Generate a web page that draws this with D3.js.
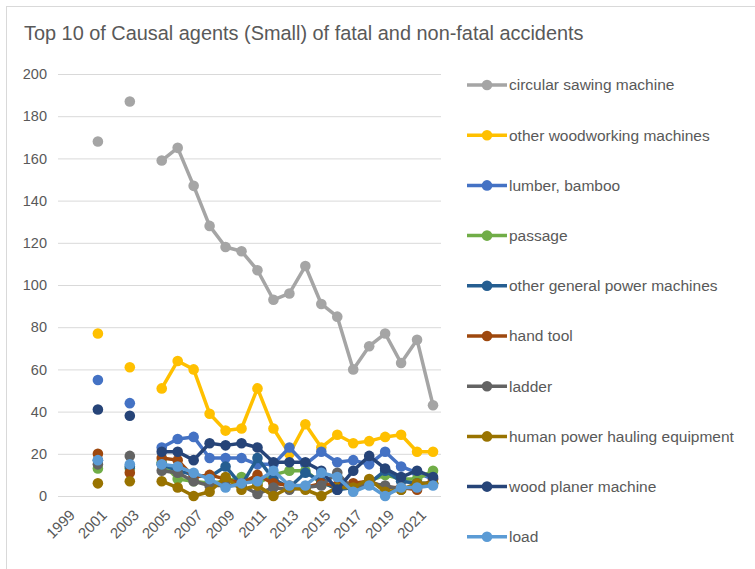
<!DOCTYPE html>
<html>
<head>
<meta charset="utf-8">
<script src="https://cdn.jsdelivr.net/npm/d3@7"></script>
<style>
    body { margin: 0; background: #fff; }
    text { font-family: "Liberation Sans", Arial, sans-serif; fill: #595959; }
</style>
</head>
<body>
<div id="chart-area"></div>
<script>
const width = 755;
const height = 569;

const years = d3.range(1999, 2023);
const tickYears = years.filter(y => y % 2 === 1);
const yTicks = [0, 20, 40, 60, 80, 100, 120, 140, 160, 180, 200];

const seriesNames = ["circular sawing machine", "other woodworking machines", "lumber, bamboo",
    "passage", "other general power machines", "hand tool", "ladder",
    "human power hauling equipment", "wood planer machine", "load"];

const colors = ["#a5a5a5", "#ffc000", "#4472c4", "#70ad47", "#255e91",
    "#9e480e", "#636363", "#997300", "#264478", "#5b9bd5"];

// values per year, 1999..2022 (null = no data)
const circularSawing = [null, null, 168, null, 187, null, 159, 165, 147, 128, 118, 116, 107, 93, 96, 109, 91, 85, 60, 71, 77, 63, 74, 43];
const otherWoodworking = [null, null, 77, null, 61, null, 51, 64, 60, 39, 31, 32, 51, 32, 20, 34, 23, 29, 25, 26, 28, 29, 21, 21];
const lumberBamboo = [null, null, 55, null, 44, null, 23, 27, 28, 18, 18, 18, 15, 15, 23, 15, 21, 16, 17, 15, 21, 14, 11, 8];
const passage = [null, null, 13, null, 13, null, 16, 8, 7, 6, 7, 9, 6, 10, 12, 12, 6, 4, 5, 7, 10, 8, 8, 12];
const otherGeneralPower = [null, null, 17, null, 14, null, 15, 12, 10, 9, 14, 5, 18, 8, 4, 11, 7, 3, 4, 6, 12, 7, 6, 6];
const handTool = [null, null, 20, null, 11, null, 18, 17, 9, 10, 8, 6, 10, 6, 5, 4, 6, 5, 6, 7, 4, 4, 3, 8];
const ladder = [null, null, 15, null, 19, null, 12, 11, 7, 5, 5, 5, 1, 4, 3, 4, 5, 11, 3, 6, 5, 3, 5, 6];
const humanPowerHauling = [null, null, 6, null, 7, null, 7, 4, 0, 2, 9, 3, 5, 0, 4, 3, 0, 4, 4, 8, 2, 3, 6, 6];
const woodPlaner = [null, null, 41, null, 38, null, 21, 21, 17, 25, 24, 25, 23, 16, 16, 16, 12, 3, 12, 19, 13, 9, 12, 9];
const load = [null, null, 17, null, 15, null, 15, 14, 11, 8, 4, 6, 7, 12, 5, 5, 11, 9, 2, 5, 0, 4, 4, 5];

const seriesValues = [circularSawing, otherWoodworking, lumberBamboo, passage, otherGeneralPower,
    handTool, ladder, humanPowerHauling, woodPlaner, load];

const series = seriesNames.map((name, i) => ({
    name: name,
    color: colors[i],
    values: years.map((yr, j) => ({ year: yr, value: seriesValues[i][j] }))
}));

const svg = d3.select("#chart-area")
    .append("svg")
    .attr("width", width)
    .attr("height", height);

// chart frame
svg.append("rect")
    .attr("x", 6.5).attr("y", 6.5)
    .attr("width", width + 10).attr("height", height + 10)
    .attr("fill", "none")
    .attr("stroke", "#d9d9d9");

svg.append("text")
    .attr("x", 24).attr("y", 40)
    .style("font-size", "19.9px")
    .text("Top 10 of Causal agents (Small) of fatal and non-fatal accidents");

const x = d3.scaleBand()
    .domain(years)
    .range([58, 441]);

const y = d3.scaleLinear()
    .domain([0, 200])
    .range([496, 74]);

// gridlines + y labels
const yAxis = d3.axisLeft(y)
    .tickValues(yTicks)
    .tickSize(-(441 - 58))
    .tickPadding(11);

const gy = svg.append("g")
    .attr("transform", "translate(58,0)")
    .call(yAxis);
gy.select(".domain").remove();
gy.selectAll(".tick line").attr("stroke", "#d9d9d9");
gy.selectAll(".tick text")
    .style("font-size", "14.5px")
    .style("font-family", "Liberation Sans, Arial, sans-serif")
    .attr("fill", "#595959");

// x labels, rotated
const xAxis = d3.axisBottom(x)
    .tickValues(tickYears)
    .tickSize(0);

const gx = svg.append("g")
    .attr("transform", "translate(0,496)")
    .call(xAxis);
gx.select(".domain").remove();
gx.selectAll(".tick text")
    .style("font-size", "15px")
    .style("font-family", "Liberation Sans, Arial, sans-serif")
    .attr("fill", "#595959")
    .attr("text-anchor", "end")
    .attr("dy", null)
    .attr("y", 0)
    .attr("transform", "translate(10,20) rotate(-45)");

const line = d3.line()
    .defined(d => d.value != null)
    .x(d => x(d.year) + x.bandwidth() / 2)
    .y(d => y(d.value));

const groups = svg.selectAll(".series")
    .data(series)
    .enter().append("g")
    .attr("class", "series");

groups.append("path")
    .attr("d", d => line(d.values))
    .attr("fill", "none")
    .attr("stroke", d => d.color)
    .attr("stroke-width", 3.5)
    .attr("stroke-linejoin", "round");

groups.selectAll("circle")
    .data(d => d.values.filter(v => v.value != null).map(v => ({ ...v, color: d.color })))
    .enter().append("circle")
    .attr("cx", d => x(d.year) + x.bandwidth() / 2)
    .attr("cy", d => y(d.value))
    .attr("r", 5.3)
    .attr("fill", d => d.color);

// legend
const legend = svg.selectAll(".legend")
    .data(series)
    .enter().append("g")
    .attr("class", "legend")
    .attr("transform", (d, i) => `translate(467, ${85 + i * 50.2})`);

legend.append("line")
    .attr("x1", 0).attr("x2", 40)
    .attr("stroke", d => d.color)
    .attr("stroke-width", 3.5);

legend.append("circle")
    .attr("cx", 20).attr("r", 5.3)
    .attr("fill", d => d.color);

legend.append("text")
    .attr("x", 42)
    .attr("dy", "0.35em")
    .style("font-size", "15.5px")
    .text(d => d.name);
</script>
</body>
</html>
